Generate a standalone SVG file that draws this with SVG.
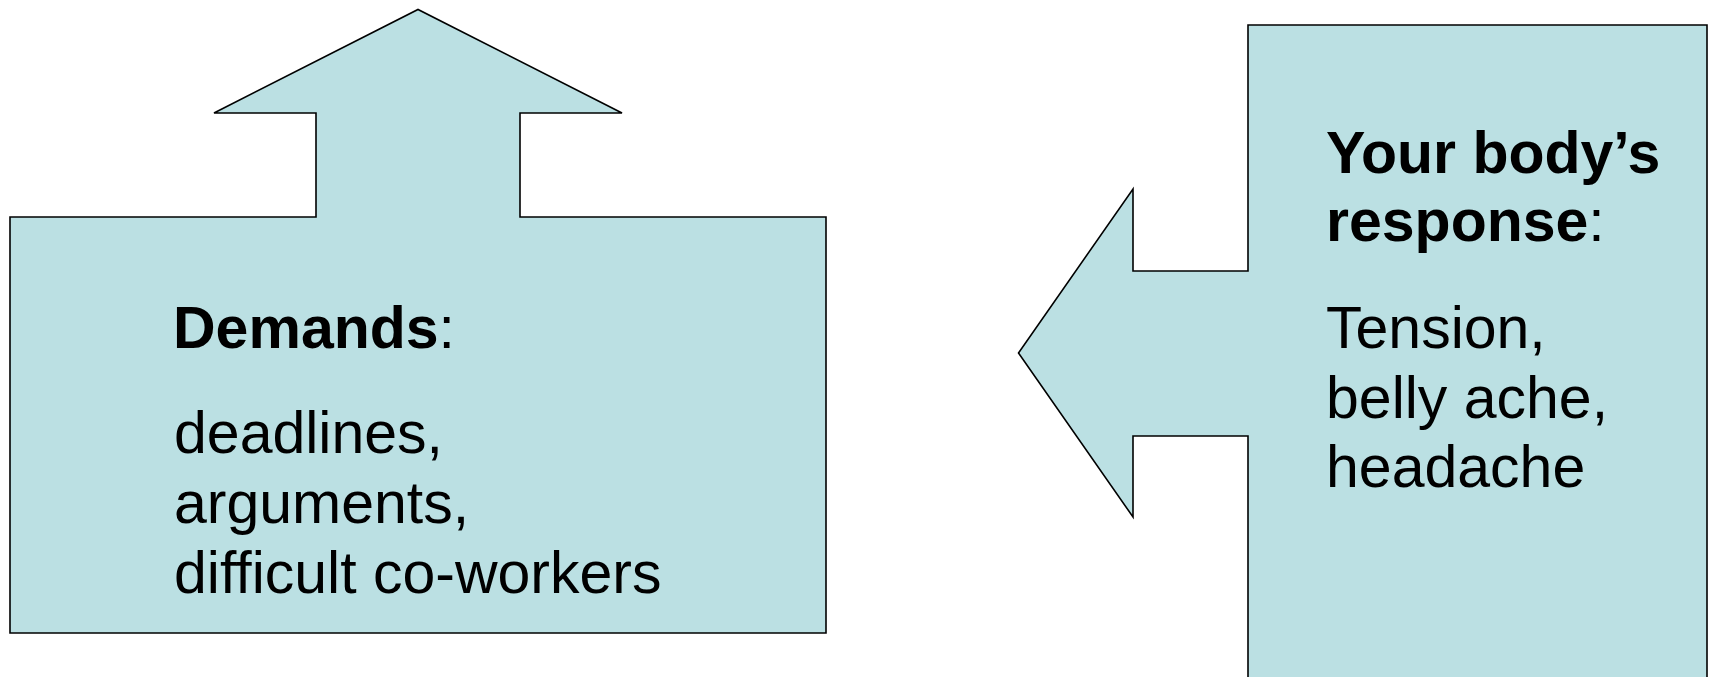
<svg xmlns="http://www.w3.org/2000/svg" width="1715" height="677" viewBox="0 0 1715 677">
  <style>
    .shape { fill: #BBE0E3; stroke: #000000; stroke-width: 1.6; stroke-linejoin: miter; }
    .label { font-family: "Liberation Sans", Arial, sans-serif; font-size: 59px; fill: #000000; }
    .b { font-weight: bold; }
  </style>
  <rect width="1715" height="677" fill="#ffffff"/>

  <!-- Demands: box with an upward arrow -->
  <g id="demands">
    <polygon class="shape" points="10,217 316,217 316,113 214,113 418,9.5 622,113 520,113 520,217 826,217 826,633 10,633"/>
    <text class="label" x="173" y="348"><tspan class="b">Demands</tspan>:</text>
    <text class="label" x="174" y="453">deadlines,</text>
    <text class="label" x="174" y="523">arguments,</text>
    <text class="label" x="174" y="593">difficult co-workers</text>
  </g>

  <!-- Body response: box with a leftward arrow -->
  <g id="response">
    <polygon class="shape" points="1248,25 1707,25 1707,700 1248,700 1248,436 1133,436 1133,517 1018.5,353 1133,189 1133,271 1248,271"/>
    <text class="label b" x="1326" y="173">Your body’s</text>
    <text class="label" x="1326" y="241"><tspan class="b">response</tspan>:</text>
    <text class="label" x="1326" y="348">Tension,</text>
    <text class="label" x="1326" y="418">belly ache,</text>
    <text class="label" x="1326" y="487">headache</text>
  </g>
</svg>
